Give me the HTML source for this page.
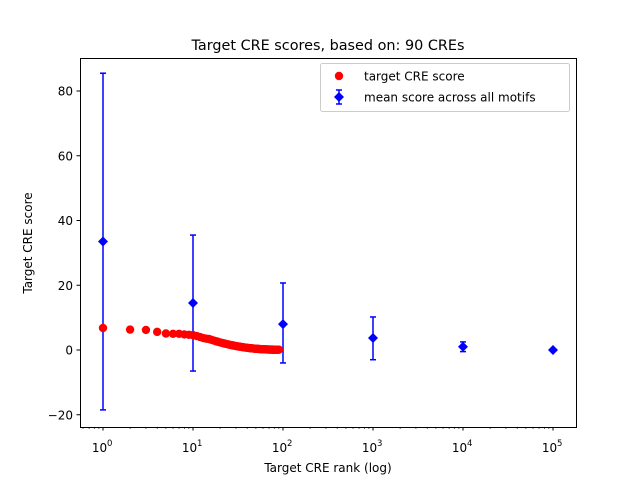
<!DOCTYPE html>
<html><head><meta charset="utf-8"><style>
body{margin:0;background:#fff}
svg text{font-family:"DejaVu Sans","Liberation Sans",sans-serif;fill:#000}
</style></head><body>
<svg id="s" width="640" height="480" xmlns="http://www.w3.org/2000/svg">
<rect width="640" height="480" fill="#fff"/>
<g id="data"></g>
<rect x="80.5" y="58.5" width="496" height="369" fill="none" stroke="#000" stroke-width="1"/>
<text x="328" y="50" font-size="14.4" text-anchor="middle">Target CRE scores, based on: 90 CREs</text>
<text x="328" y="472" font-size="12" text-anchor="middle">Target CRE rank (log)</text>
<text transform="translate(32,243) rotate(-90)" font-size="12" text-anchor="middle">Target CRE score</text>
<g id="ticks"></g>
<rect x="320.5" y="63.5" width="249" height="48" rx="2" fill="#fff" fill-opacity="0.8" stroke="#ccc"/>
<circle cx="339" cy="76" r="4.2" fill="red"/>
<text x="364" y="80.5" font-size="12">target CRE score</text>
<line x1="339" y1="90" x2="339" y2="104" stroke="blue" stroke-width="1.5"/>
<line x1="336" y1="90" x2="342" y2="90" stroke="blue" stroke-width="1.5"/>
<line x1="336" y1="104" x2="342" y2="104" stroke="blue" stroke-width="1.5"/>
<polygon points="339,92 344,97 339,102 334,97" fill="blue"/>
<text x="364" y="101.5" font-size="12">mean score across all motifs</text>
</svg>
<script>
var NS="http://www.w3.org/2000/svg";
function X(r){return 103+90*Math.log10(r);}
function Y(v){return 350-3.2375*v;}
function el(p,t,a,txt){var e=document.createElementNS(NS,t);for(var k in a)e.setAttribute(k,a[k]);if(txt!=null)e.textContent=txt;p.appendChild(e);return e;}
var g=document.getElementById("data"),tk=document.getElementById("ticks");
var b=[[1,33.5,85.5,-18.5],[10,14.5,35.5,-6.5],[100,8,20.7,-4],[1000,3.7,10.2,-3],[1e4,1,2.5,-0.5],[1e5,0,0,0]];
b.forEach(function(d){var x=X(d[0]);
 el(g,"line",{x1:x,y1:Y(d[2]),x2:x,y2:Y(d[3]),stroke:"blue","stroke-width":1.5});
 el(g,"line",{x1:x-3,y1:Y(d[2]),x2:x+3,y2:Y(d[2]),stroke:"blue","stroke-width":1.5});
 el(g,"line",{x1:x-3,y1:Y(d[3]),x2:x+3,y2:Y(d[3]),stroke:"blue","stroke-width":1.5});});
var v0=[6.8,6.3,6.2,5.6,5.1,5.0,5.0,4.8,4.7,4.6,4.3,4.0,3.7,3.5,3.4];
for(var r=1;r<=90;r++){var v=r<=15?v0[r-1]:Math.max(0.1,3.3*Math.pow(1-(Math.log(r)-Math.log(15))/(Math.log(90)-Math.log(15)),2.2)+0.1);
 el(g,"circle",{cx:X(r),cy:Y(v),r:4.2,fill:"red"});}
b.forEach(function(d){var x=X(d[0]),y=Y(d[1]);
 el(g,"polygon",{points:x+","+(y-5)+" "+(x+5)+","+y+" "+x+","+(y+5)+" "+(x-5)+","+y,fill:"blue"});});
[-20,0,20,40,60,80].forEach(function(v){var y=Y(v);
 el(tk,"line",{x1:76.5,y1:y,x2:80,y2:y,stroke:"#000"});
 el(tk,"text",{x:73,y:y+4.5,"font-size":12,"text-anchor":"end"},v<0?"\u221220":String(v));});
for(var e=0;e<=5;e++){var x=X(Math.pow(10,e));
 el(tk,"line",{x1:x,y1:427,x2:x,y2:430.5,stroke:"#000"});
 el(tk,"text",{x:x-3.5,y:452,"font-size":12,"text-anchor":"middle"},"10");
 el(tk,"text",{x:x+4,y:446,"font-size":8.5},String(e));}
for(var e=-1;e<=5;e++)for(var m=2;m<=9;m++){var x=X(m*Math.pow(10,e));if(x>80&&x<576)el(tk,"line",{x1:x,y1:427,x2:x,y2:429,stroke:"#000","stroke-width":0.6});}
</script>
</body></html>
